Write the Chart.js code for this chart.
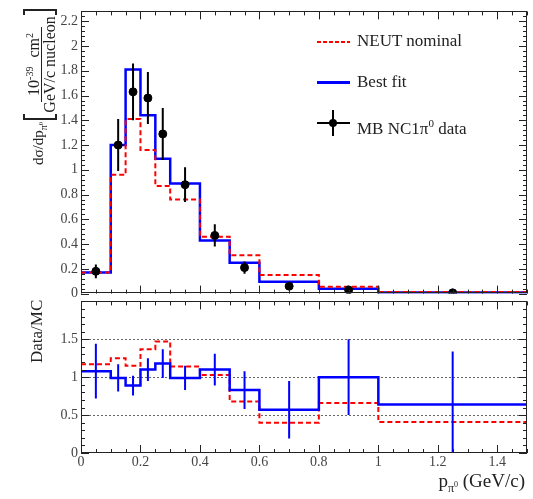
<!DOCTYPE html>
<html>
<head>
<meta charset="utf-8">
<script src="https://cdn.jsdelivr.net/npm/chart.js@4.4.1/dist/chart.umd.min.js"></script>
<style>
  html, body { margin: 0; padding: 0; background: #fff; }
  #wrap { position: relative; width: 533px; height: 499px; overflow: hidden; font-family: 'Liberation Serif', 'DejaVu Serif', serif; color: #222; }
  canvas { position: absolute; left: 0; }
  #topChart { top: 0; }
  #ratioChart { top: 290px; }
  .rot { position: absolute; transform: rotate(-90deg); transform-origin: left top; white-space: nowrap; }
  #ytitle { left: 22px; top: 165px; display: flex; align-items: center; font-size: 15px; }
  #ytitle .lhs { margin-right: 2px; }
  #ytitle sub { font-size: 10px; }
  #ytitle sub sup { font-size: 7px; }
  .brl, .brr { width: 4px; height: 30px; border-top: 2px solid #222; border-bottom: 2px solid #222; }
  .brl { border-left: 2px solid #222; }
  .brr { border-right: 2px solid #222; }
  .frac { display: flex; flex-direction: column; align-items: center; font-size: 16px; line-height: 15px; padding: 0 1px; }
  .frac .num { border-bottom: 1.5px solid #222; padding: 0 6px; word-spacing: 5px; }
  .frac sup { font-size: 10px; }
  #rtitle { left: 27px; top: 363px; font-size: 17px; }
  #xtitle { position: absolute; right: 8px; top: 470px; font-size: 19px; }
  #xtitle sub { font-size: 12px; }
  #xtitle sub sup { font-size: 8px; }
  .leg { position: absolute; left: 357px; font-size: 17px; line-height: 20px; height: 20px; white-space: nowrap; }
  .legline { position: absolute; left: 317px; width: 33px; }
</style>
</head>
<body>
<div id="wrap">
  <canvas id="topChart" width="533" height="305"></canvas>
  <canvas id="ratioChart" width="533" height="209"></canvas>

  <div id="ytitle" class="rot">
    <span class="lhs">dσ/dp<sub>π<sup>0</sup></sub></span>
    <span class="brl"></span>
    <span class="frac"><span class="num">10<sup>-39</sup> cm<sup>2</sup></span><span class="den">GeV/c nucleon</span></span>
    <span class="brr"></span>
  </div>
  <div id="rtitle" class="rot">Data/MC</div>
  <div id="xtitle">p<sub>π<sup>0</sup></sub> (GeV/c)</div>

  <!-- legend -->
  <div class="legline" style="top:41px;height:2px;background:repeating-linear-gradient(to right,#ff0000 0 4px,transparent 4px 6px);"></div>
  <div class="leg" style="top:31px;">NEUT nominal</div>
  <div class="legline" style="top:81px;height:3px;background:#0000ff;"></div>
  <div class="leg" style="top:72px;">Best fit</div>
  <div class="legline" style="top:122px;height:2px;background:#000;"></div>
  <div style="position:absolute;left:332px;top:110px;width:2px;height:26px;background:#000;"></div>
  <div style="position:absolute;left:329px;top:119px;width:8px;height:8px;border-radius:50%;background:#000;"></div>
  <div class="leg" style="top:113px;">MB NC1π<sup style="font-size:11px">0</sup> data</div>
</div>

<script>
// bin edges in p_pi0 (GeV/c)
const binEdges = [0, 0.1, 0.15, 0.2, 0.25, 0.3, 0.4, 0.5, 0.6, 0.8, 1.0, 1.5];

// cross section, 10^-39 cm2 / (GeV/c) / nucleon
const neutNominal = [0.17, 0.96, 1.41, 1.16, 0.87, 0.76, 0.46, 0.31, 0.15, 0.055, 0.012];
const bestFit     = [0.17, 1.20, 1.81, 1.44, 1.09, 0.89, 0.43, 0.25, 0.095, 0.04, 0.008];
const dataXsec    = [0.18, 1.20, 1.63, 1.58, 1.29, 0.88, 0.47, 0.21, 0.06, 0.03, 0.006];
const dataErr     = [0.055, 0.21, 0.23, 0.21, 0.21, 0.14, 0.09, 0.05, 0.02, 0.01, 0.005];

// data / MC
const ratioNeut    = [1.17, 1.25, 1.15, 1.37, 1.47, 1.14, 1.03, 0.68, 0.40, 0.66, 0.41];
const ratioBestFit = [1.08, 0.99, 0.89, 1.10, 1.18, 0.99, 1.10, 0.83, 0.57, 1.00, 0.64];
const ratioErr     = [0.36, 0.18, 0.13, 0.15, 0.19, 0.16, 0.21, 0.25, 0.38, 0.50, 0.70];

const serif = "'Liberation Serif', 'DejaVu Serif', serif";

// histogram outline: one point at each left edge, plus the last right edge
function stepPoints(values) {
    const pts = values.map((v, i) => ({ x: binEdges[i], y: v }));
    pts.push({ x: binEdges[binEdges.length - 1], y: values[values.length - 1] });
    return pts;
}

function centerPoints(values) {
    return values.map((v, i) => ({ x: (binEdges[i] + binEdges[i + 1]) / 2, y: v }));
}

// ROOT prints 1 and 2, not 1.0 and 2.0
const rootLabel = v => String(parseFloat(Number(v).toFixed(2)));

function line(ctx, x1, y1, x2, y2) {
    ctx.beginPath();
    ctx.moveTo(x1, y1);
    ctx.lineTo(x2, y2);
    ctx.stroke();
}

/**
 * ROOT-like frame: box, inward ticks on all sides, dotted reference lines
 * and vertical error bars for datasets that carry an `errors` array
 */
const rootFrame = {
    id: 'rootFrame',
    beforeDatasetsDraw(chart, args, opts) {
        const { ctx, chartArea: a } = chart;
        const ys = chart.scales.y;
        ctx.save();
        ctx.setLineDash([2, 2]);
        ctx.strokeStyle = '#666';
        ctx.lineWidth = 1;
        (opts.gridY || []).forEach(v => {
            const py = Math.round(ys.getPixelForValue(v)) + 0.5;
            line(ctx, a.left, py, a.right, py);
        });
        ctx.restore();
    },
    afterDatasetsDraw(chart, args, opts) {
        const { ctx, chartArea: a } = chart;
        const xs = chart.scales.x, ys = chart.scales.y;

        // error bars
        chart.data.datasets.forEach(ds => {
            if (!ds.errors) return;
            ctx.save();
            ctx.beginPath();
            ctx.rect(a.left, a.top, a.right - a.left, a.bottom - a.top);
            ctx.clip();
            ctx.strokeStyle = ds.errorColor;
            ctx.lineWidth = 2;
            ds.data.forEach((p, j) => {
                const px = xs.getPixelForValue(p.x);
                line(ctx, px, ys.getPixelForValue(p.y - ds.errors[j]), px, ys.getPixelForValue(p.y + ds.errors[j]));
            });
            ctx.restore();
        });

        // frame
        ctx.save();
        ctx.strokeStyle = '#222';
        ctx.lineWidth = 1;
        ctx.strokeRect(Math.round(a.left) + 0.5, Math.round(a.top) + 0.5,
            Math.round(a.right - a.left) - 1, Math.round(a.bottom - a.top) - 1);

        // x ticks (bottom and top)
        const nx = Math.round((xs.max - xs.min) / opts.xMinor);
        for (let i = 0; i <= nx; i++) {
            const v = xs.min + i * opts.xMinor;
            const major = Math.abs(v / opts.xMajor - Math.round(v / opts.xMajor)) < 1e-6;
            const len = major ? opts.majorLen : opts.minorLen;
            const px = Math.round(xs.getPixelForValue(v)) + 0.5;
            line(ctx, px, a.bottom, px, a.bottom - len);
            line(ctx, px, a.top, px, a.top + len);
        }
        // y ticks (left and right)
        const ny = Math.floor((ys.max - ys.min) / opts.yMinor + 1e-6);
        for (let i = 0; i <= ny; i++) {
            const v = ys.min + i * opts.yMinor;
            const major = Math.abs(v / opts.yMajor - Math.round(v / opts.yMajor)) < 1e-6;
            const len = major ? opts.majorLen : opts.minorLen;
            const py = Math.round(ys.getPixelForValue(v)) + 0.5;
            line(ctx, a.left, py, a.left + len, py);
            line(ctx, a.right, py, a.right - len, py);
        }
        ctx.restore();
    }
};

const tickFont = { family: serif, size: 14 };
const noGrid = { display: false, drawTicks: false };

const topChart = new Chart(document.getElementById('topChart'), {
    type: 'line',
    data: {
        datasets: [
            {
                label: 'MB NC1π0 data',
                data: centerPoints(dataXsec),
                showLine: false,
                pointRadius: 4,
                pointBackgroundColor: '#000',
                pointBorderColor: '#000',
                errors: dataErr,
                errorColor: '#000',
                order: 0
            },
            {
                label: 'NEUT nominal',
                data: stepPoints(neutNominal),
                stepped: 'before',
                borderColor: '#ff0000',
                borderWidth: 2,
                borderDash: [5, 3],
                pointRadius: 0,
                order: 1
            },
            {
                label: 'Best fit',
                data: stepPoints(bestFit),
                stepped: 'before',
                borderColor: '#0000ff',
                borderWidth: 2.5,
                pointRadius: 0,
                order: 2
            }
        ]
    },
    options: {
        responsive: false,
        animation: false,
        layout: { padding: { left: 0, right: 6, top: 5, bottom: 7 } },
        scales: {
            x: { type: 'linear', min: 0, max: 1.5, display: false },
            y: {
                min: 0,
                max: 2.28,
                afterFit: s => { s.width = 81; },
                grid: noGrid,
                border: { display: false },
                ticks: { stepSize: 0.2, includeBounds: false, padding: 3, color: '#444', font: tickFont, callback: rootLabel }
            }
        },
        plugins: {
            legend: { display: false },
            tooltip: { enabled: false },
            rootFrame: { xMajor: 0.2, xMinor: 0.05, yMajor: 0.2, yMinor: 0.04, majorLen: 8, minorLen: 4 }
        }
    },
    plugins: [rootFrame]
});

const ratioChart = new Chart(document.getElementById('ratioChart'), {
    type: 'line',
    data: {
        datasets: [
            {
                label: 'Data/Best fit errors',
                data: centerPoints(ratioBestFit),
                showLine: false,
                pointRadius: 0,
                errors: ratioErr,
                errorColor: '#0000ff',
                order: 0
            },
            {
                label: 'Data/NEUT nominal',
                data: stepPoints(ratioNeut),
                stepped: 'before',
                borderColor: '#ff0000',
                borderWidth: 2,
                borderDash: [5, 3],
                pointRadius: 0,
                order: 2
            },
            {
                label: 'Data/Best fit',
                data: stepPoints(ratioBestFit),
                stepped: 'before',
                borderColor: '#0000ff',
                borderWidth: 2.5,
                pointRadius: 0,
                order: 1
            }
        ]
    },
    options: {
        responsive: false,
        animation: false,
        layout: { padding: { left: 0, right: 6, top: 8, bottom: 0 } },
        scales: {
            x: {
                type: 'linear',
                min: 0,
                max: 1.5,
                afterFit: s => { s.height = 46; },
                grid: noGrid,
                border: { display: false },
                ticks: { stepSize: 0.2, includeBounds: false, padding: 1, maxRotation: 0, color: '#444', font: tickFont, callback: rootLabel }
            },
            y: {
                min: 0,
                max: 2,
                afterFit: s => { s.width = 81; },
                grid: noGrid,
                border: { display: false },
                ticks: {
                    stepSize: 0.5,
                    padding: 3,
                    color: '#444',
                    font: tickFont,
                    callback: v => (v >= 2 ? '' : rootLabel(v))
                }
            }
        },
        plugins: {
            legend: { display: false },
            tooltip: { enabled: false },
            rootFrame: { xMajor: 0.2, xMinor: 0.05, yMajor: 0.5, yMinor: 0.1, majorLen: 8, minorLen: 4, gridY: [0.5, 1, 1.5] }
        }
    },
    plugins: [rootFrame]
});
</script>
</body>
</html>
